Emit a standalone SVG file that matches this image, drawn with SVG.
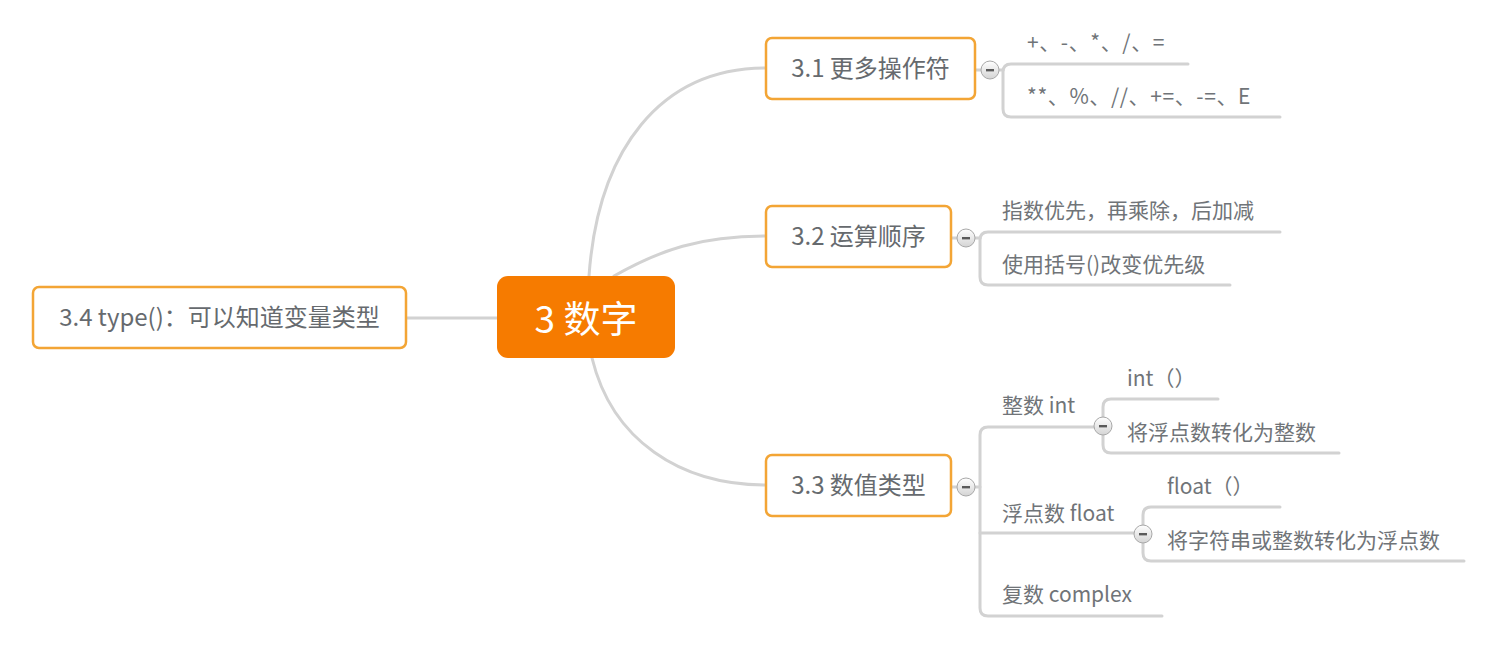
<svg xmlns="http://www.w3.org/2000/svg" width="1506" height="649" viewBox="0 0 1506 649">
<defs>
<linearGradient id="btn" x1="0" y1="0" x2="0" y2="1">
<stop offset="0" stop-color="#FFFFFF"/>
<stop offset="1" stop-color="#D4D4D4"/>
</linearGradient>
<style>
.ln{fill:none;stroke:#D2D2D2;stroke-width:3;stroke-linecap:round}
.topic{fill:#FFFFFF;stroke:#F3A535;stroke-width:2.5}
.tt{font-family:"Noto Sans CJK SC","Noto Sans",sans-serif;font-size:24px;fill:#666A6E;text-anchor:middle}
.ct{font-family:"Noto Sans CJK SC","Noto Sans",sans-serif;font-size:21px;fill:#707478}
.bc{fill:url(#btn);stroke:#A8A8A8;stroke-width:1}
.bm{fill:#5A5A5A}
</style>
</defs>
<rect width="1506" height="649" fill="#FFFFFF"/>
<g id="connectors">
<path class="ln" d="M589,276 C598,150 660,68 766,68"/>
<path class="ln" d="M614,276 C660,250 700,236 766,236"/>
<path class="ln" d="M592,358 C612,440 680,485 766,485"/>
<path class="ln" d="M406,318 L497,318"/>
<path class="ln" d="M975,70 L1003,70"/>
<path class="ln" d="M1188,64 L1011,64 Q1003,64 1003,72 L1003,109 Q1003,117 1011,117 L1280,117"/>
<path class="ln" d="M951,238 L980,238"/>
<path class="ln" d="M1280,232 L988,232 Q980,232 980,240 L980,277 Q980,285 988,285 L1230,285"/>
<path class="ln" d="M951,487 L980,487"/>
<path class="ln" d="M1103,427 L988,427 Q980,427 980,435 L980,608 Q980,616 988,616 L1162,616"/>
<path class="ln" d="M980,533 L1143,533"/>
<path class="ln" d="M1218,399 L1111,399 Q1103,399 1103,407 L1103,445 Q1103,453 1111,453 L1339,453"/>
<path class="ln" d="M1280,507 L1151,507 Q1143,507 1143,515 L1143,553 Q1143,561 1151,561 L1464,561"/>
</g>
<g id="center">
<rect x="497" y="276" width="178" height="82" rx="11" fill="#F67B00"/>
<text x="586" y="333" font-family="Noto Sans CJK SC, Noto Sans, sans-serif" font-size="37" fill="#FFFFFF" text-anchor="middle">3 数字</text>
</g>
<g id="n31">
<rect class="topic" x="766" y="38" width="209" height="61" rx="6"/>
<text class="tt" x="870.5" y="77">3.1 更多操作符</text>
</g>
<g id="n31a"><text class="ct" x="1027" y="50" letter-spacing="0.6">+、-、*、/、=</text></g>
<g id="n31b"><text class="ct" x="1027" y="104" letter-spacing="0.6">**、%、//、+=、-=、E</text></g>
<g id="n32">
<rect class="topic" x="766" y="206" width="185" height="61" rx="6"/>
<text class="tt" x="858.5" y="245">3.2 运算顺序</text>
</g>
<g id="n32a"><text class="ct" x="1002" y="218">指数优先，再乘除，后加减</text></g>
<g id="n32b"><text class="ct" x="1002" y="272">使用括号()改变优先级</text></g>
<g id="n33">
<rect class="topic" x="766" y="455" width="185" height="61" rx="6"/>
<text class="tt" x="858.5" y="494">3.3 数值类型</text>
</g>
<g id="n331"><text class="ct" x="1002" y="413">整数 int</text></g>
<g id="n331a"><text class="ct" x="1127" y="386">int（）</text></g>
<g id="n331b"><text class="ct" x="1127" y="440">将浮点数转化为整数</text></g>
<g id="n332"><text class="ct" x="1002" y="521">浮点数 float</text></g>
<g id="n332a"><text class="ct" x="1167" y="494">float（）</text></g>
<g id="n332b"><text class="ct" x="1167" y="548">将字符串或整数转化为浮点数</text></g>
<g id="n333"><text class="ct" x="1002" y="602">复数 complex</text></g>
<g id="n34">
<rect class="topic" x="33" y="287" width="373" height="61" rx="6"/>
<text class="tt" x="219.5" y="326">3.4 type()：可以知道变量类型</text>
</g>
<g id="buttons">
<circle class="bc" cx="990" cy="70" r="9"/><rect class="bm" x="986" y="69" width="8" height="2.4"/>
<circle class="bc" cx="966" cy="238" r="9"/><rect class="bm" x="962" y="237" width="8" height="2.4"/>
<circle class="bc" cx="966" cy="487" r="9"/><rect class="bm" x="962" y="486" width="8" height="2.4"/>
<circle class="bc" cx="1103" cy="426" r="9"/><rect class="bm" x="1099" y="425" width="8" height="2.4"/>
<circle class="bc" cx="1143" cy="534" r="9"/><rect class="bm" x="1139" y="533" width="8" height="2.4"/>
</g>
</svg>
